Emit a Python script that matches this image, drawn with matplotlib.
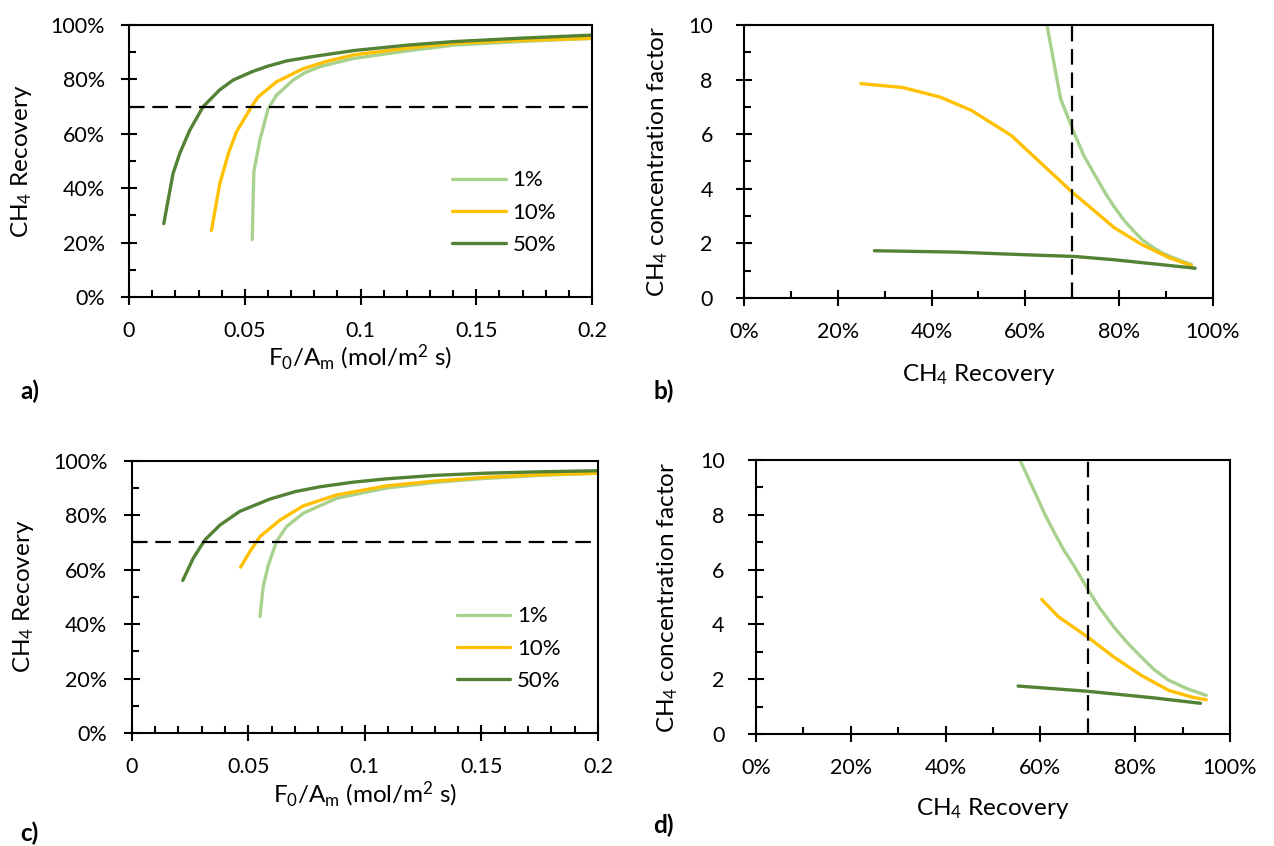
import matplotlib
matplotlib.use('Agg')
import matplotlib.pyplot as plt
from matplotlib.ticker import MultipleLocator, PercentFormatter, FuncFormatter

plt.rcParams['font.family'] = ['Lato', 'DejaVu Sans']
plt.rcParams['mathtext.fontset'] = 'custom'
plt.rcParams['mathtext.rm'] = 'Lato'
plt.rcParams['mathtext.it'] = 'Lato:italic'
plt.rcParams['mathtext.default'] = 'regular'
plt.rcParams['font.size'] = 15

series_names = ['1%', '10%', '50%']
colors = ['#A9D18E', '#FFC000', '#548235']

# panel a: recovery vs F0/Am
a_x_1 = [0.0532, 0.0539, 0.0565, 0.0601, 0.0637, 0.0709, 0.076, 0.0825, 0.09, 0.0969, 0.12, 0.140, 0.17, 0.2]
a_y_1 = [21.1, 46, 57.7, 69.3, 74.2, 79.8, 82.5, 84.7, 86.3, 87.7, 90.5, 92.6, 94.0, 95.1]
a_x_10 = [0.0356, 0.0392, 0.0430, 0.0464, 0.0529, 0.0558, 0.0637, 0.0753, 0.086, 0.0969, 0.12, 0.140, 0.17, 0.2]
a_y_10 = [24.5, 41.7, 53.0, 60.7, 70.0, 73.6, 79.1, 84.0, 86.8, 89.0, 91.5, 93.3, 94.4, 95.1]
a_x_50 = [0.0150, 0.0190, 0.0219, 0.0262, 0.0320, 0.0392, 0.045, 0.0536, 0.06, 0.068, 0.08, 0.0969, 0.12, 0.140, 0.17, 0.2]
a_y_50 = [27.0, 45.4, 52.8, 61.3, 70.0, 76.2, 79.8, 83.0, 84.9, 86.8, 88.5, 90.6, 92.6, 93.9, 95.2, 96.3]

# panel b: concentration factor vs recovery
b_x_1 = [62.0, 64.6, 67.5, 70.5, 72.5, 74.7, 77.0, 78.9, 81.0, 83.1, 85.0, 87.3, 89.5, 91.6, 93.5, 95.4]
b_y_1 = [12.6, 10.0, 7.3, 6.0, 5.2, 4.54, 3.85, 3.35, 2.85, 2.45, 2.12, 1.84, 1.62, 1.47, 1.34, 1.23]
b_x_10 = [24.9, 33.8, 41.8, 48.5, 57.0, 62.0, 66.2, 70.0, 73.0, 78.9, 84.8, 90.7, 95.4]
b_y_10 = [7.85, 7.71, 7.36, 6.87, 5.95, 5.15, 4.48, 3.87, 3.44, 2.58, 1.96, 1.47, 1.19]
b_x_50 = [27.8, 45.0, 62.0, 70.5, 78.9, 87.3, 96.2]
b_y_50 = [1.73, 1.68, 1.57, 1.52, 1.40, 1.25, 1.09]

# panel c
c_x_1 = [0.055, 0.0564, 0.0586, 0.0621, 0.0664, 0.0736, 0.0879, 0.109, 0.13, 0.152, 0.175, 0.2]
c_y_1 = [42.8, 53.8, 61.7, 70.3, 75.8, 80.7, 86.2, 89.9, 92.0, 93.5, 94.6, 95.4]
c_x_10 = [0.0467, 0.0507, 0.055, 0.0636, 0.0736, 0.0879, 0.109, 0.13, 0.152, 0.175, 0.2]
c_y_10 = [60.9, 66.6, 72.1, 78.2, 83.4, 87.4, 90.7, 92.5, 93.9, 94.8, 95.4]
c_x_50 = [0.0219, 0.0264, 0.0314, 0.0379, 0.0464, 0.0593, 0.07, 0.0807, 0.095, 0.109, 0.13, 0.152, 0.175, 0.2]
c_y_50 = [56.0, 64.2, 70.9, 76.4, 81.4, 85.9, 88.6, 90.4, 92.1, 93.3, 94.6, 95.4, 95.9, 96.3]

# panel d
d_x_1 = [53.0, 55.7, 58.9, 61.0, 63.0, 65.0, 67.2, 70.1, 72.5, 75.5, 78.5, 81.3, 84.0, 87.1, 91.0, 95.0]
d_y_1 = [11.0, 10.0, 8.8, 8.0, 7.33, 6.7, 6.11, 5.26, 4.6, 3.91, 3.3, 2.81, 2.35, 1.96, 1.65, 1.41]
d_x_10 = [60.3, 63.8, 69.9, 75.5, 81.3, 87.1, 92.1, 95.0]
d_y_10 = [4.91, 4.28, 3.55, 2.81, 2.14, 1.59, 1.34, 1.25]
d_x_50 = [55.3, 69.9, 83.8, 93.8]
d_y_50 = [1.75, 1.56, 1.32, 1.12]

target = 70

fig = plt.figure(figsize=(12.74, 8.46), dpi=100)
ax_a = fig.add_axes([0.1013, 0.6489, 0.3634, 0.3215])
ax_b = fig.add_axes([0.5840, 0.6478, 0.3681, 0.3227])
ax_c = fig.add_axes([0.1034, 0.1336, 0.3660, 0.3219])
ax_d = fig.add_axes([0.5934, 0.1324, 0.3720, 0.3239])


def style(ax, ypad):
    for s in ax.spines.values():
        s.set_linewidth(1.5)
        s.set_color('black')
    ax.tick_params(which='major', direction='inout', length=11, width=1.5, labelsize=15.5)
    ax.tick_params(which='minor', direction='in', length=5, width=1.5)
    ax.tick_params(axis='x', which='major', pad=12)
    ax.tick_params(axis='y', which='major', pad=ypad)
    ax.tick_params(which='both', top=False, right=False)


def flux_panel(ax, xs, ys, label_y):
    for x, y, c, n in zip(xs, ys, colors, series_names):
        ax.plot(x, y, color=c, lw=2.4, label=n, solid_capstyle='round')
    ax.axhline(target, color='black', lw=1.6, dashes=(7, 3.5))
    ax.set_xlim(0, 0.2)
    ax.set_ylim(0, 100)
    ax.xaxis.set_major_locator(MultipleLocator(0.05))
    ax.xaxis.set_minor_locator(MultipleLocator(0.01))
    ax.yaxis.set_major_locator(MultipleLocator(20))
    ax.yaxis.set_minor_locator(MultipleLocator(10))
    ax.xaxis.set_major_formatter(FuncFormatter(lambda v, p: '0' if v == 0 else ('%g' % round(v, 3))))
    ax.yaxis.set_major_formatter(PercentFormatter(100, decimals=0))
    style(ax, 12)
    ax.set_xlabel('F$_0$/A$_m$ (mol/m$^2$ s)', fontsize=17.5)
    ax.set_ylabel('CH$_4$ Recovery', fontsize=17.5, va='center')
    ax.xaxis.set_label_coords(0.5, label_y)
    ax.yaxis.set_label_coords(-0.232, 0.5)
    ax.legend(loc='center left', bbox_to_anchor=(0.655, 0.31), frameon=False,
              fontsize=16, handlelength=2.4, labelspacing=0.55, handletextpad=0.3)


def factor_panel(ax, xs, ys, label_y, ylab_x):
    for x, y, c in zip(xs, ys, colors):
        ax.plot(x, y, color=c, lw=2.4, solid_capstyle='round')
    ax.axvline(target, color='black', lw=1.6, dashes=(7, 3.5))
    ax.set_xlim(0, 100)
    ax.set_ylim(0, 10)
    ax.xaxis.set_major_locator(MultipleLocator(20))
    ax.xaxis.set_minor_locator(MultipleLocator(10))
    ax.yaxis.set_major_locator(MultipleLocator(2))
    ax.yaxis.set_minor_locator(MultipleLocator(1))
    ax.xaxis.set_major_formatter(PercentFormatter(100, decimals=0))
    style(ax, 17)
    ax.set_xlabel('CH$_4$ Recovery', fontsize=17.5)
    ax.set_ylabel('CH$_4$ concentration factor', fontsize=17.5, va='center')
    ax.xaxis.set_label_coords(0.5, label_y)
    ax.yaxis.set_label_coords(ylab_x, 0.5)


flux_panel(ax_a, [a_x_1, a_x_10, a_x_50], [a_y_1, a_y_10, a_y_50], -0.165)
factor_panel(ax_b, [b_x_1, b_x_10, b_x_50], [b_y_1, b_y_10, b_y_50], -0.235, -0.185)
flux_panel(ax_c, [c_x_1, c_x_10, c_x_50], [c_y_1, c_y_10, c_y_50], -0.17)
factor_panel(ax_d, [d_x_1, d_x_10, d_x_50], [d_y_1, d_y_10, d_y_50], -0.228, -0.186)

for txt, x, y in [('a)', 0.016, 0.537), ('b)', 0.513, 0.537), ('c)', 0.016, 0.015), ('d)', 0.513, 0.024)]:
    fig.text(x, y, txt, fontsize=17.5, fontweight='bold', ha='left', va='center')

fig.savefig('out.png', dpi=100)
